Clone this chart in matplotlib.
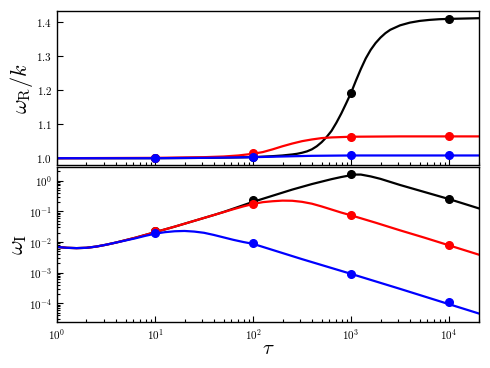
import matplotlib
matplotlib.use("Agg")
from matplotlib import pyplot as plt
import numpy as np

plt.rcParams['font.family'] = 'serif'
plt.rcParams['font.serif'] = ['cmr10', 'DejaVu Serif']
plt.rcParams['mathtext.fontset'] = 'cm'
plt.rcParams['axes.formatter.use_mathtext'] = True

# log10(tau) grids and curves
# top panel: omega_R / k
lt_black_r = [0, 1, 1.5, 2.0, 2.2, 2.3, 2.4, 2.45, 2.5, 2.55, 2.6, 2.65, 2.7, 2.75,
              2.8, 2.85, 2.9, 2.95, 3.0, 3.05, 3.1, 3.15, 3.2, 3.25, 3.3, 3.35,
              3.4, 3.5, 3.6, 3.7, 3.8, 3.9, 4.0, 4.31]
wr_black = [1.000, 1.000, 1.001, 1.003, 1.006, 1.008, 1.011, 1.013, 1.016, 1.020,
            1.026, 1.035, 1.047, 1.062, 1.080, 1.104, 1.131, 1.161, 1.192, 1.228,
            1.262, 1.293, 1.318, 1.338, 1.354, 1.367, 1.377, 1.390, 1.398, 1.403,
            1.406, 1.408, 1.409, 1.411]
lt_red_r = [0, 1, 1.5, 1.7, 1.85, 2.0, 2.1, 2.2, 2.3, 2.4, 2.5, 2.6, 2.7, 2.8,
            2.9, 3.0, 3.5, 4.31]
wr_red = [1.000, 1.001, 1.003, 1.005, 1.008, 1.013, 1.018, 1.026, 1.035, 1.043,
          1.050, 1.055, 1.059, 1.061, 1.062, 1.063, 1.064, 1.064]
lt_blue_r = [0, 1, 1.5, 2.0, 2.3, 2.6, 3.0, 4.31]
wr_blue = [1.000, 1.000, 1.001, 1.003, 1.005, 1.007, 1.008, 1.008]

# bottom panel: log10(omega_I)
lt_blue_i = [0, 0.1, 0.2, 0.3, 0.4, 0.5, 0.6, 0.7, 0.8, 0.9, 1.0, 1.1, 1.2, 1.3, 1.4,
             1.5, 1.6, 1.7, 1.8, 1.9, 2.0, 2.5, 3.0, 3.5, 4.0, 4.31]
lwi_blue = [-2.16, -2.19, -2.20, -2.19, -2.15, -2.09, -2.02, -1.95, -1.88, -1.80,
            -1.73, -1.68, -1.65, -1.64, -1.66, -1.70, -1.77, -1.85, -1.93, -2.00,
            -2.06, -2.56, -3.04, -3.53, -4.03, -4.34]
lt_red_i = [0, 0.1, 0.2, 0.3, 0.4, 0.5, 0.6, 0.7, 0.8, 0.9, 1.0, 1.2, 1.4, 1.6, 1.8,
            1.9, 2.0, 2.1, 2.2, 2.3, 2.4, 2.5, 2.6, 2.7, 2.8, 2.9, 3.0, 3.25, 3.5,
            3.75, 4.0, 4.31]
lwi_red = [-2.16, -2.19, -2.20, -2.19, -2.15, -2.09, -2.02, -1.94, -1.86, -1.77,
           -1.68, -1.50, -1.31, -1.12, -0.93, -0.84, -0.76, -0.70, -0.67, -0.65,
           -0.655, -0.69, -0.75, -0.84, -0.94, -1.04, -1.13, -1.37, -1.62, -1.86,
           -2.11, -2.42]
lt_black_i = [0, 0.1, 0.2, 0.3, 0.4, 0.5, 0.6, 0.7, 0.8, 0.9, 1.0, 1.2, 1.4, 1.6,
              1.7, 1.8, 1.9, 2.0, 2.1, 2.2, 2.3, 2.4, 2.5, 2.6, 2.7, 2.8, 2.9, 3.0,
              3.05, 3.1, 3.2, 3.3, 3.4, 3.5, 3.75, 4.0, 4.31]
lwi_black = [-2.16, -2.19, -2.20, -2.19, -2.15, -2.09, -2.02, -1.94, -1.86, -1.77,
             -1.68, -1.50, -1.31, -1.12, -1.02, -0.91, -0.80, -0.69, -0.59, -0.49,
             -0.39, -0.29, -0.20, -0.11, -0.03, 0.05, 0.12, 0.18, 0.20, 0.20, 0.14,
             0.06, -0.04, -0.14, -0.37, -0.60, -0.91]

# marker points at tau = 10, 100, 1000, 10000
tau_pts = [1e1, 1e2, 1e3, 1e4]
wr_black_pts = [1.000, 1.003, 1.192, 1.409]
wr_red_pts = [1.001, 1.014, 1.063, 1.064]
wr_blue_pts = [1.000, 1.003, 1.008, 1.008]
wi_black_pts = [-1.65, -0.64, 0.22, -0.60]
wi_red_pts = [-1.65, -0.75, -1.13, -2.11]
wi_blue_pts = [-1.72, -2.02, -3.04, -3.95]

fig = plt.figure(figsize=(4.9, 3.68), dpi=100)
ax1 = fig.add_axes([0.1163, 0.5516, 0.8613, 0.4184])
ax2 = fig.add_axes([0.1163, 0.125, 0.8613, 0.4212], sharex=ax1)

series = [
    ('black', lt_black_r, wr_black, wr_black_pts, lt_black_i, lwi_black, wi_black_pts),
    ('red', lt_red_r, wr_red, wr_red_pts, lt_red_i, lwi_red, wi_red_pts),
    ('blue', lt_blue_r, wr_blue, wr_blue_pts, lt_blue_i, lwi_blue, wi_blue_pts),
]
for c, ltr, wr, wrp, lti, lwi, wip in series:
    ax1.plot(10**np.array(ltr), wr, color=c, lw=1.6)
    ax1.plot(tau_pts, wrp, 'o', color=c, ms=5.5)
    ax2.plot(10**np.array(lti), 10**np.array(lwi), color=c, lw=1.6)
    ax2.plot(tau_pts, 10**np.array(wip), 'o', color=c, ms=5.5)

ax1.set_xscale('log')
ax1.set_xlim(1, 2.02e4)
ax1.set_ylim(0.98, 1.432)
ax1.set_yticks([1.0, 1.1, 1.2, 1.3, 1.4])
ax1.tick_params(labelbottom=False)
ax1.set_ylabel(r'$\omega_{\rm R}/k$', fontsize=16, labelpad=1)

ax2.set_yscale('log')
ax2.set_ylim(2.45e-5, 2.8)
ax2.set_ylabel(r'$\omega_{\rm I}$', fontsize=16, labelpad=0)
ax2.set_xlabel(r'$\tau$', fontsize=15, labelpad=-1)

for ax in (ax1, ax2):
    ax.tick_params(which='both', direction='in', labelsize=8, width=0.8)
    ax.tick_params(which='major', length=4)
    ax.tick_params(which='minor', length=2)
    for s in ax.spines.values():
        s.set_linewidth(1.0)

fig.savefig('out.png', dpi=100)
